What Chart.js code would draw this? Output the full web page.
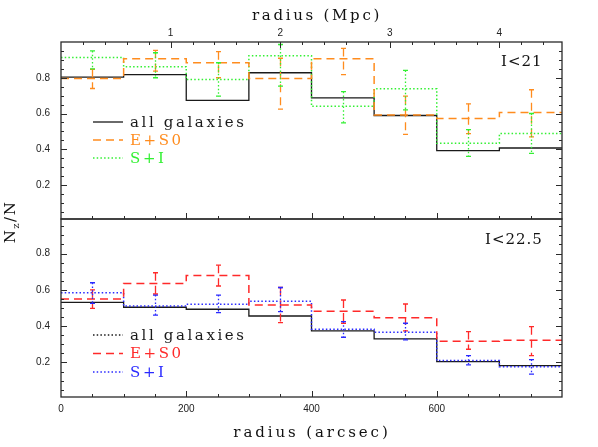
<!DOCTYPE html>
<html><head><meta charset="utf-8">
<script src="https://cdn.jsdelivr.net/npm/chart.js@4/dist/chart.umd.min.js"></script>
<style>
html,body{margin:0;padding:0;background:#fff;}
#wrap{position:relative;width:598px;height:447px;}
canvas{position:absolute;left:0;top:0;}
</style>
</head><body>
<div id="wrap"><canvas id="cTop" width="598" height="447"></canvas><canvas id="cBot" width="598" height="447"></canvas></div>
<script>
// ---- data ----
const binEdges = [0, 100, 200, 300, 400, 500, 600, 700, 800];   // radius bins (arcsec)
const arcsecPerMpc = 175;
const yTickLabels = [0.2, 0.4, 0.6, 0.8];
const xTickLabels = [0, 200, 400, 600];
const mpcTickLabels = [1, 2, 3, 4];
const seriesNames = ['all galaxies', 'E+S0', 'S+I'];
const panelLabels = ['I<21', 'I<22.5'];

// I<21
const topAll   = [0.803, 0.818, 0.674, 0.828, 0.688, 0.589, 0.392, 0.407];
const topE     = [0.796, 0.907, 0.884, 0.796, 0.907, 0.591, 0.572, 0.606];
const topELo   = [0.740, 0.837, 0.800, 0.625, 0.817, 0.483, 0.487, 0.469];
const topEHi   = [0.847, 0.953, 0.946, 0.909, 0.964, 0.697, 0.654, 0.733];
const topS     = [0.914, 0.862, 0.790, 0.923, 0.640, 0.738, 0.433, 0.488];
const topSLo   = [0.850, 0.800, 0.697, 0.753, 0.548, 0.620, 0.360, 0.377];
const topSHi   = [0.950, 0.940, 0.884, 0.986, 0.722, 0.841, 0.510, 0.600];

// I<22.5
const botAll   = [0.531, 0.504, 0.493, 0.456, 0.374, 0.330, 0.205, 0.183];
const botE     = [0.549, 0.635, 0.679, 0.516, 0.482, 0.447, 0.317, 0.323];
const botELo   = [0.498, 0.577, 0.621, 0.419, 0.416, 0.374, 0.273, 0.238];
const botEHi   = [0.600, 0.694, 0.736, 0.613, 0.544, 0.522, 0.370, 0.397];
const botS     = [0.584, 0.511, 0.520, 0.537, 0.383, 0.367, 0.211, 0.176];
const botSLo   = [0.526, 0.461, 0.474, 0.480, 0.339, 0.324, 0.187, 0.136];
const botSHi   = [0.639, 0.571, 0.571, 0.613, 0.425, 0.416, 0.238, 0.216];

// ---- styles ----
const C = {black:'#1a1a1a', orange:'#ff8c1e', green:'#33f033', red:'#ff2a2a', blue:'#2a2aff'};
const DASH = [8, 5], DOT = [1.5, 2.2];
const SERIF = '"DejaVu Serif", serif';
const SANS = '"Liberation Sans", Arial, sans-serif';

function stepPts(vals){
  return binEdges.map((e, i) => ({x: e, y: vals[Math.min(i, vals.length - 1)]}));
}

function spacedText(ctx, text, x, y, font, color, spacing, align){
  ctx.save();
  ctx.font = font; ctx.fillStyle = color; ctx.textBaseline = 'middle';
  try { ctx.letterSpacing = spacing + 'px'; } catch(e) {}
  let w = ctx.measureText(text).width;
  let sx = x;
  if (align === 'center') sx = x - w / 2;
  else if (align === 'right') sx = x - w;
  ctx.textAlign = 'left';
  ctx.fillText(text, sx, y);
  ctx.restore();
}

function decoPlugin(cfg){
  return {
    id: 'deco_' + cfg.name,
    afterDatasetsDraw(chart){
      const {ctx, scales} = chart;
      const x = scales.x, y = scales.y;
      // error bars
      cfg.errors.forEach(s => {
        ctx.save();
        ctx.strokeStyle = s.color; ctx.lineWidth = 1.3;
        for (let i = 0; i < s.lo.length; i++){
          const cx = Math.round(x.getPixelForValue((binEdges[i] + binEdges[i+1]) / 2)) + 0.5;
          const y1 = y.getPixelForValue(s.hi[i]), y2 = y.getPixelForValue(s.lo[i]);
          ctx.setLineDash(s.dash);
          ctx.beginPath(); ctx.moveTo(cx, y1); ctx.lineTo(cx, y2); ctx.stroke();
          ctx.setLineDash([]);
          ctx.beginPath();
          ctx.moveTo(cx - 2.5, y1); ctx.lineTo(cx + 2.5, y1);
          ctx.moveTo(cx - 2.5, y2); ctx.lineTo(cx + 2.5, y2);
          ctx.stroke();
        }
        ctx.restore();
      });
    },
    afterDraw(chart){
      const {ctx, chartArea: a, scales} = chart;
      const x = scales.x, y = scales.y;
      ctx.save();
      ctx.strokeStyle = '#2a2a2a'; ctx.lineWidth = 1;
      ctx.beginPath();
      // y ticks, both sides, every 0.05, major every 0.2
      for (let k = 1; k < 20; k++){
        const v = k * 0.05;
        if (v <= y.min || v >= y.max) continue;
        const p = Math.round(y.getPixelForValue(v)) + 0.5;
        const len = (k % 4 === 0) ? 6 : 3;
        ctx.moveTo(a.left, p); ctx.lineTo(a.left + len, p);
        ctx.moveTo(a.right, p); ctx.lineTo(a.right - len, p);
      }
      // bottom edge ticks every 50 arcsec, major every 200
      for (let v = 50; v < 800; v += 50){
        const p = Math.round(x.getPixelForValue(v)) + 0.5;
        const len = (v % 200 === 0) ? 6 : 3;
        ctx.moveTo(p, a.bottom); ctx.lineTo(p, a.bottom - len);
      }
      // top edge Mpc ticks
      if (cfg.mpc){
        const m = scales.xMpc;
        for (let k = 1; k * 0.2 < m.max; k++){
          const v = k * 0.2;
          const p = Math.round(m.getPixelForValue(v)) + 0.5;
          const len = (k % 5 === 0) ? 6 : 3;
          ctx.moveTo(p, a.top); ctx.lineTo(p, a.top + len);
        }
      }
      ctx.stroke();
      ctx.lineWidth = 1.3;
      ctx.strokeRect(a.left, a.top, a.right - a.left, a.bottom - a.top);
      ctx.restore();

      // legend
      cfg.legend.forEach((e, i) => {
        const ly = cfg.legendY[i];
        ctx.save();
        ctx.strokeStyle = e.color; ctx.lineWidth = e.width; ctx.setLineDash(e.dash);
        ctx.beginPath(); ctx.moveTo(93, ly); ctx.lineTo(123, ly); ctx.stroke();
        ctx.restore();
        spacedText(ctx, e.text, 130, ly + 1, '15px ' + SERIF, e.color, 2.6, 'left');
      });
      // panel label
      spacedText(ctx, cfg.label, cfg.labelX, cfg.labelY, '15px ' + SERIF, '#111', 1, 'left');
      // axis titles
      if (cfg.mpc) spacedText(ctx, 'radius (Mpc)', 317, 16, '15px ' + SERIF, '#111', 2.7, 'center');
      if (cfg.xTitle) spacedText(ctx, 'radius (arcsec)', 312, 433, '15px ' + SERIF, '#111', 2.9, 'center');
      if (cfg.yTitle){
        ctx.save();
        ctx.translate(15, 222);
        ctx.rotate(-Math.PI / 2);
        ctx.fillStyle = '#111'; ctx.textBaseline = 'alphabetic'; ctx.textAlign = 'left';
        try { ctx.letterSpacing = '1.5px'; } catch(e) {}
        const big = '15px ' + SERIF, small = '10px ' + SERIF;
        ctx.font = big; const wN = ctx.measureText('N').width;
        ctx.font = small; const wz = ctx.measureText('z').width;
        ctx.font = big; const wr = ctx.measureText('/N').width;
        let sx = -(wN + wz + wr) / 2;
        ctx.font = big; ctx.fillText('N', sx, 0); sx += wN;
        ctx.font = small; ctx.fillText('z', sx, 4); sx += wz;
        ctx.font = big; ctx.fillText('/N', sx, 0);
        ctx.restore();
      }
    }
  };
}

function lineDs(label, vals, color, dash, width, order){
  return {label, data: stepPts(vals), borderColor: color, borderDash: dash, borderWidth: width,
          stepped: true, pointRadius: 0, fill: false, order};
}

const tickFont = {family: SANS, size: 10};
const yScale = (min, max) => ({
  type: 'linear', position: 'left', min, max,
  grid: {display: false, drawTicks: false}, border: {display: false},
  afterBuildTicks: s => { s.ticks = yTickLabels.map(v => ({value: v})); },
  ticks: {font: tickFont, color: '#222', padding: 11, autoSkip: false, callback: v => Number(v).toFixed(1)},
  afterFit: s => { s.width = 61; }
});

// top panel
new Chart(document.getElementById('cTop'), {
  type: 'line',
  data: {datasets: [
    lineDs(seriesNames[0], topAll, C.black, [], 1.3, 3),
    lineDs(seriesNames[1], topE, C.orange, DASH, 1.5, 1),
    lineDs(seriesNames[2], topS, C.green, DOT, 1.5, 2)
  ]},
  options: {
    responsive: false, animation: false, devicePixelRatio: 1,
    layout: {padding: {left: 0, right: 36, top: 0, bottom: 228}},
    plugins: {legend: {display: false}, tooltip: {enabled: false}},
    scales: {
      x: {type: 'linear', min: 0, max: 800, display: false},
      xMpc: {type: 'linear', position: 'top', min: 0, max: 800 / arcsecPerMpc,
        grid: {display: false, drawTicks: false}, border: {display: false},
        afterBuildTicks: s => { s.ticks = mpcTickLabels.map(v => ({value: v})); },
        ticks: {font: tickFont, color: '#222', padding: 3, autoSkip: false, maxRotation: 0, callback: v => String(v)},
        afterFit: s => { s.height = 42; }},
      y: yScale(0.01, 1.0)
    }
  },
  plugins: [decoPlugin({
    name: 'top', mpc: true, xTitle: false, yTitle: false,
    errors: [
      {lo: topELo, hi: topEHi, color: C.orange, dash: DASH},
      {lo: topSLo, hi: topSHi, color: C.green, dash: DOT}
    ],
    legend: [
      {text: seriesNames[0], color: C.black, dash: [], width: 1.3},
      {text: seriesNames[1], color: C.orange, dash: DASH, width: 1.5},
      {text: seriesNames[2], color: C.green, dash: DOT, width: 1.5}
    ],
    legendY: [122, 140, 158],
    label: panelLabels[0], labelX: 501, labelY: 62
  })]
});

// bottom panel
new Chart(document.getElementById('cBot'), {
  type: 'line',
  data: {datasets: [
    lineDs(seriesNames[0], botAll, C.black, [], 1.3, 3),
    lineDs(seriesNames[1], botE, C.red, DASH, 1.5, 1),
    lineDs(seriesNames[2], botS, C.blue, DOT, 1.5, 2)
  ]},
  options: {
    responsive: false, animation: false, devicePixelRatio: 1,
    layout: {padding: {left: 0, right: 36, top: 219, bottom: 0}},
    plugins: {legend: {display: false}, tooltip: {enabled: false}},
    scales: {
      x: {type: 'linear', position: 'bottom', min: 0, max: 800,
        grid: {display: false, drawTicks: false}, border: {display: false},
        afterBuildTicks: s => { s.ticks = xTickLabels.map(v => ({value: v})); },
        ticks: {font: tickFont, color: '#222', padding: 6, autoSkip: false, maxRotation: 0, callback: v => String(v)},
        afterFit: s => { s.height = 50; }},
      y: yScale(0.01, 0.99)
    }
  },
  plugins: [decoPlugin({
    name: 'bot', mpc: false, xTitle: true, yTitle: true,
    errors: [
      {lo: botELo, hi: botEHi, color: C.red, dash: DASH},
      {lo: botSLo, hi: botSHi, color: C.blue, dash: DOT}
    ],
    legend: [
      {text: seriesNames[0], color: C.black, dash: DOT, width: 1.3},
      {text: seriesNames[1], color: C.red, dash: DASH, width: 1.5},
      {text: seriesNames[2], color: C.blue, dash: DOT, width: 1.5}
    ],
    legendY: [335, 353.5, 372],
    label: panelLabels[1], labelX: 485, labelY: 240
  })]
});
</script>
</body></html>
